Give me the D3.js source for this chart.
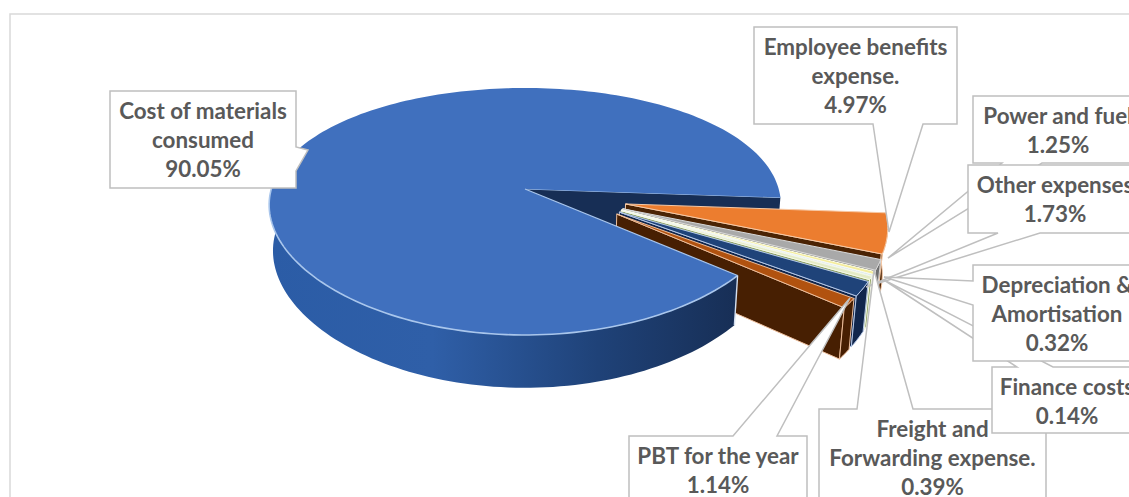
<!DOCTYPE html>
<html>
<head>
<meta charset="utf-8">
<script src="https://cdn.jsdelivr.net/npm/d3@7"></script>
<style>
  html, body { margin: 0; padding: 0; background: #fff; overflow: hidden; }
  text { font-family: Lato, "Open Sans", sans-serif; font-weight: 700; fill: #595959; }
</style>
</head>
<body>
<svg id="chart" width="1129" height="497"></svg>
<script>
// data, in the order the slices run round the pie
const categories = ['Cost of materials consumed', 'Employee benefits expense.', 'Power and fuel',
  'Depreciation & Amortisation', 'Finance costs', 'Freight and Forwarding expense.', 'Other expenses', 'PBT for the year'];
const shares = [90.05, 4.97, 1.25, 0.32, 0.14, 0.39, 1.73, 1.14];

// slice colours: top face, cut face / wall, edge highlight
const topColours = ['#4070BE', '#EC7D2F', '#A9A9A9', '#F4EC9C', '#CFE0E4', '#E4EBC6', '#1F4379', '#B1520F'];
const sideColours = ['#172E55', '#4A2304', '#6E6E6E', '#A89A4A', '#7F9AA5', '#8CA060', '#11264C', '#471F02'];
const edgeColours = ['#A9C6EC', '#F6C9A6', '#D8D8D8', '#FFFFE8', '#F2F7F8', '#F6F9E8', '#B4C7E7', '#EDBE9B'];

// callouts are layout, not data: box, pointer base on one side of the box, pointer tip
const callouts = [
  { name: categories[0], lines: ['Cost of materials', 'consumed', '90.05%'], x: 110, y: 91, w: 186, h: 97, side: 'right', from: 147, to: 171, tip: [308, 150] },
  { name: categories[1], lines: ['Employee benefits', 'expense.', '4.97%'], x: 754, y: 27, w: 203, h: 97, side: 'bottom', from: 873, to: 923, tip: [889, 232] },
  { name: categories[2], lines: ['Power and fuel', '1.25%'], x: 973, y: 96, w: 170, h: 67, side: 'bottom', from: 1002, to: 1042, tip: [888, 258] },
  { name: categories[6], lines: ['Other expenses', '1.73%'], x: 968, y: 165, w: 174, h: 68, side: 'bottom', from: 998, to: 1040, tip: [866, 287] },
  { name: categories[5], lines: ['Freight and', 'Forwarding expense.', '0.39%'], x: 819, y: 409, w: 227, h: 97, side: 'top', from: 857, to: 913, tip: [874, 270] },
  { name: categories[4], lines: ['Finance costs', '0.14%'], x: 992, y: 367, w: 150, h: 66, side: 'top', from: 1017, to: 1053, tip: [884, 280] },
  { name: categories[3], lines: ['Depreciation &', 'Amortisation', '0.32%'], x: 973, y: 265, w: 168, h: 96, side: 'left', from: 281, to: 305, tip: [884, 277] },
  { name: categories[7], lines: ['PBT for the year', '1.14%'], x: 629, y: 436, w: 178, h: 68, side: 'top', from: 733, to: 777, tip: [850, 298] }
];

const width = 1129, height = 497;
const svg = d3.select('#chart');
const defs = svg.append('defs');

// chart frame, runs off the right and bottom of the picture
svg.append('rect')
  .attr('x', 10).attr('y', 14)
  .attr('width', width + 40).attr('height', height + 40)
  .style('fill', '#fff').style('stroke', '#D9D9D9').style('stroke-width', 1.5);

// pie angles: d3 measures from 12 o'clock, the tilted ground plane from 3 o'clock
const rad = Math.PI / 180;
const firstSliceStart = 129.8 * rad;
const pie = d3.pie().sort(null).value(d => d)
  .startAngle(firstSliceStart).endAngle(firstSliceStart + 2 * Math.PI);
const slices = pie(shares).map((d, i) => ({
  index: i,
  a0: d.startAngle - Math.PI / 2,
  a1: d.endAngle - Math.PI / 2
}));

// perspective projection of the ground plane, origin at the apex of the big slice
const apex = [525, 189];
const tiltY = -0.182, tiltX = -0.13, depth = 45, lowerScale = 0.985, explode = 0.205;
const xScale = d3.scaleLinear().domain([-1, 1]).range([-253.7, 253.7]);
const yScale = d3.scaleLinear().domain([-1, 1]).range([-119.4, 119.4]);

function project(u, v, level) {
  const wx = 1 / (1 + tiltX * v);
  const wy = 1 / (1 + tiltY * v);
  const s = level ? lowerScale : 1;
  return [apex[0] + s * xScale(u) * wx, apex[1] + s * yScale(v) * wy + level * depth * wy];
}

const mid = d => (d.a0 + d.a1) / 2;
const mainMid = mid(slices[0]);
function offset(d) {
  return [explode * (Math.cos(mid(d)) - Math.cos(mainMid)), explode * (Math.sin(mid(d)) - Math.sin(mainMid))];
}
function rimPoint(d, a, level) {
  const o = offset(d);
  return project(o[0] + Math.cos(a), o[1] + Math.sin(a), level);
}
function apexPoint(d, level) {
  const o = offset(d);
  return project(o[0], o[1], level);
}
function arcAngles(a0, a1) {
  const n = Math.max(2, Math.ceil((a1 - a0) / (1.5 * rad)));
  return d3.range(n + 1).map(k => a0 + (a1 - a0) * k / n);
}

const line = d3.line();
const closed = pts => line(pts) + 'Z';

// the wall of the big slice goes dark towards the gap
const wallGradient = defs.append('linearGradient')
  .attr('id', 'wallGradient').attr('gradientUnits', 'userSpaceOnUse')
  .attr('x1', 267).attr('x2', 740).attr('y1', 0).attr('y2', 0);
wallGradient.append('stop').attr('offset', '0').attr('stop-color', '#2B5CA6');
wallGradient.append('stop').attr('offset', '0.35').attr('stop-color', '#2F5FA8');
wallGradient.append('stop').attr('offset', '0.7').attr('stop-color', '#1F4278');
wallGradient.append('stop').attr('offset', '1').attr('stop-color', '#172E55');

function drawCutFace(g, d, edge, sw) {
  g.append('path')
    .attr('d', closed([apexPoint(d, 0), rimPoint(d, d.a1, 0), rimPoint(d, d.a1, 1), apexPoint(d, 1)]))
    .style('fill', sideColours[d.index])
    .style('stroke', edge).style('stroke-width', sw).style('stroke-linejoin', 'round');
}
function drawWall(g, d, a0, a1, fill, edge, sw) {
  const angles = arcAngles(a0, a1);
  const upper = angles.map(a => rimPoint(d, a, 0));
  const lower = angles.map(a => rimPoint(d, a, 1)).reverse();
  g.append('path')
    .attr('d', closed(upper.concat(lower)))
    .style('fill', fill)
    .style('stroke', edge).style('stroke-width', sw).style('stroke-linejoin', 'round');
}
function drawTop(g, d, edge, sw) {
  const pts = [apexPoint(d, 0)].concat(arcAngles(d.a0, d.a1).map(a => rimPoint(d, a, 0)));
  g.append('path')
    .attr('d', closed(pts))
    .style('fill', topColours[d.index])
    .style('stroke', edge).style('stroke-width', sw).style('stroke-linejoin', 'round');
}

const pieG = svg.append('g').attr('class', 'pie');
const main = slices[0];

// back to front: cut face of the big slice, small slices, then the big slice itself
drawCutFace(pieG, main, 'none', 0);
pieG.append('path')
  .attr('d', line([rimPoint(main, main.a1, 0), apexPoint(main, 0)]))
  .style('stroke', edgeColours[0]).style('stroke-width', 1.2).style('fill', 'none');

slices.slice(1).forEach(d => {
  const g = pieG.append('g').attr('class', 'slice');
  drawCutFace(g, d, edgeColours[d.index], 1);
  drawWall(g, d, d.a0, d.a1, sideColours[d.index], edgeColours[d.index], 1);
  drawTop(g, d, edgeColours[d.index], 1);
});

const mainG = pieG.append('g').attr('class', 'slice');
drawWall(mainG, main, main.a0, 190 * rad, 'url(#wallGradient)', 'none', 0);
drawTop(mainG, main, 'none', 0);
// light rim along the front of the big slice and its corner
mainG.append('path')
  .attr('d', line(arcAngles(main.a0, 182 * rad).map(a => rimPoint(main, a, 0))))
  .style('fill', 'none').style('stroke', edgeColours[0]).style('stroke-width', 1.6);
mainG.append('path')
  .attr('d', line([rimPoint(main, main.a0, 0), rimPoint(main, main.a0, 1)]))
  .style('fill', 'none').style('stroke', '#D5E0F0').style('stroke-width', 1.4);
mainG.append('path')
  .attr('d', line([apexPoint(main, 0), rimPoint(main, main.a0, 0)]))
  .style('fill', 'none').style('stroke', edgeColours[0]).style('stroke-width', 1.2);

// callouts
function calloutPath(c) {
  const r = c.x + c.w, b = c.y + c.h;
  const pts = [[c.x, c.y]];
  if (c.side === 'top') pts.push([c.from, c.y], c.tip, [c.to, c.y]);
  pts.push([r, c.y]);
  if (c.side === 'right') pts.push([r, c.from], c.tip, [r, c.to]);
  pts.push([r, b]);
  if (c.side === 'bottom') pts.push([c.to, b], c.tip, [c.from, b]);
  pts.push([c.x, b]);
  if (c.side === 'left') pts.push([c.x, c.to], c.tip, [c.x, c.from]);
  return closed(pts);
}

const lineHeight = 29.2;
const labels = svg.append('g').attr('class', 'callouts')
  .selectAll('g')
  .data(callouts)
  .join('g');

labels.append('path')
  .attr('d', calloutPath)
  .style('fill', '#fff')
  .style('stroke', '#BFBFBF')
  .style('stroke-width', 1.5);

labels.append('text')
  .attr('text-anchor', 'middle')
  .style('font-size', '22.4px')
  .selectAll('tspan')
  .data(c => c.lines.map((t, i) => ({ t, i, c })))
  .join('tspan')
  .attr('x', d => d.c.x + d.c.w / 2)
  .attr('y', d => d.c.y + 28 + d.i * lineHeight)
  .text(d => d.t);
</script>
</body>
</html>
